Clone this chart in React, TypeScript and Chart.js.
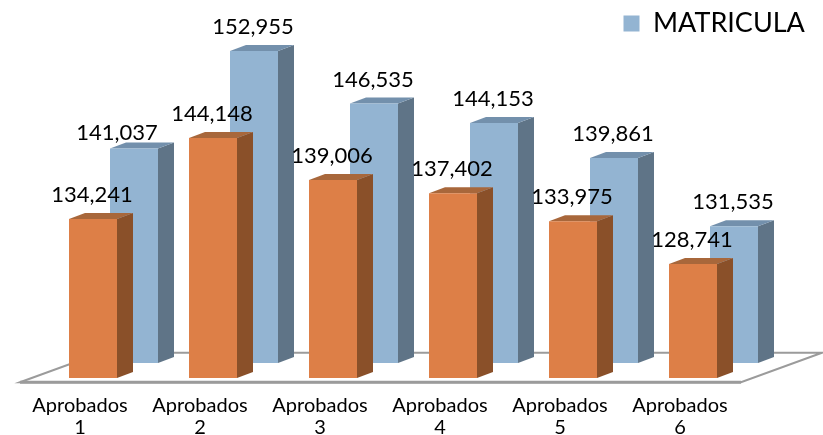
import React, { useEffect, useRef } from "react";
import { Chart, registerables } from "chart.js";

Chart.register(...registerables);

const categories = [["Aprobados", "1"], ["Aprobados", "2"], ["Aprobados", "3"], ["Aprobados", "4"], ["Aprobados", "5"], ["Aprobados", "6"]];
const aprobados = [134241, 144148, 139006, 137402, 133975, 128741];
const matricula = [141037, 152955, 146535, 144153, 139861, 131535];
const AXIS_MIN = 114800;
const AXIS_MAX = 160000;

const FONT = "Lato, 'Open Sans', sans-serif";
const ORANGE = { front: "#DD7F47", side: "#8A5029", top: "#A8673B" };
const BLUE = { front: "#93B4D2", side: "#5F7487", top: "#7390AC" };
const DEPTH = { dx: 16, dy: -6 };
const BACK_ROW = { dx: 41, dy: -15 };

const face = (ctx: CanvasRenderingContext2D, pts: number[][], fill: string) => {
  ctx.beginPath();
  pts.forEach(([x, y], i) => (i ? ctx.lineTo(x, y) : ctx.moveTo(x, y)));
  ctx.closePath();
  ctx.fillStyle = fill;
  ctx.fill();
};

const bars3d = {
  id: "bars3d",
  beforeDatasetsDraw(chart: any) {
    const { ctx, chartArea: a } = chart;
    const y0 = a.bottom + 4.3;
    const x0 = a.left - 13;
    const x1 = a.right - 12;
    const sx = 81;
    const sy = -29.5;
    ctx.save();
    ctx.strokeStyle = "#9B9B9B";
    ctx.lineJoin = "miter";
    ctx.lineWidth = 2;
    ctx.beginPath();
    ctx.moveTo(x0, y0);
    ctx.lineTo(x0 + sx, y0 + sy);
    ctx.lineTo(x1 + sx, y0 + sy);
    ctx.lineTo(x1, y0);
    ctx.closePath();
    ctx.stroke();
    ctx.lineWidth = 3;
    ctx.beginPath();
    ctx.moveTo(x0, y0);
    ctx.lineTo(x1, y0);
    ctx.stroke();
    ctx.restore();
  },
  beforeDatasetDraw(chart: any, args: any) {
    const { ctx } = chart;
    const back = args.index === 1;
    const c = back ? BLUE : ORANGE;
    ctx.save();
    if (back) ctx.translate(BACK_ROW.dx, BACK_ROW.dy);
    chart.getDatasetMeta(args.index).data.forEach((el: any) => {
      const l = el.x - el.width / 2;
      const r = el.x + el.width / 2;
      face(ctx, [[r, el.y], [r + DEPTH.dx, el.y + DEPTH.dy], [r + DEPTH.dx, el.base + DEPTH.dy], [r, el.base]], c.side);
      face(ctx, [[l, el.y], [l + DEPTH.dx, el.y + DEPTH.dy], [r + DEPTH.dx, el.y + DEPTH.dy], [r, el.y]], c.top);
    });
  },
  afterDatasetDraw(chart: any) {
    chart.ctx.restore();
  },
  afterDatasetsDraw(chart: any) {
    const { ctx } = chart;
    ctx.save();
    ctx.font = `22px ${FONT}`;
    ctx.fillStyle = "#000";
    ctx.textAlign = "center";
    ctx.textBaseline = "middle";
    chart.data.datasets.forEach((ds: any, d: number) => {
      chart.getDatasetMeta(d).data.forEach((el: any, i: number) => {
        const nudge = d === 1 && i === 0 ? { x: -17, y: 8 } : { x: -1, y: 0 };
        const x = el.x + (d === 1 ? BACK_ROW.dx : 0) + nudge.x;
        const y = el.y + (d === 1 ? BACK_ROW.dy : 0) - 24 + nudge.y;
        ctx.fillText(ds.data[i].toLocaleString("en-US"), x, y);
      });
    });
    ctx.restore();
  },
  afterLayout(chart: any) {
    const lg = chart.legend;
    if (lg) {
      lg.left = 615.5;
      lg.right = 823;
      lg.top = 0;
      lg.bottom = 45;
    }
  },
};

export default function App() {
  const ref = useRef<HTMLCanvasElement>(null);
  useEffect(() => {
    const shared = { borderWidth: 0, barPercentage: 0.4, categoryPercentage: 1, grouped: false, clip: false, base: AXIS_MIN };
    const chart = new Chart(ref.current as HTMLCanvasElement, {
      type: "bar",
      plugins: [bars3d],
      data: {
        labels: categories,
        datasets: [
          { label: "APROBADOS", data: aprobados, backgroundColor: ORANGE.front, ...shared },
          { label: "MATRICULA", data: matricula, backgroundColor: BLUE.front, ...shared },
        ],
      } as any,
      options: {
        responsive: false,
        animation: false,
        layout: { padding: { left: 33, right: 70, top: 8.4, bottom: 0 } },
        scales: {
          x: {
            grid: { display: false },
            border: { display: false },
            afterFit: (s: any) => { s.height = 57; },
            ticks: { font: { family: FONT, size: 20, lineHeight: 1.1 }, color: "#000", padding: 9, labelOffset: -13, maxRotation: 0, autoSkip: false },
          },
          y: { display: false, min: AXIS_MIN, max: AXIS_MAX },
        },
        plugins: {
          tooltip: { enabled: false },
          legend: {
            position: "chartArea",
            align: "end",
            labels: {
              filter: (item: any) => item.text === "MATRICULA",
              boxWidth: 16,
              boxHeight: 16,
              color: "#000",
              font: { family: FONT, size: 27 },
              padding: 8,
            },
          },
        },
      } as any,
    });
    return () => chart.destroy();
  }, []);
  return <canvas ref={ref} width={823} height={435} style={{ position: "absolute", left: 0, top: 0, display: "block" }} />;
}
